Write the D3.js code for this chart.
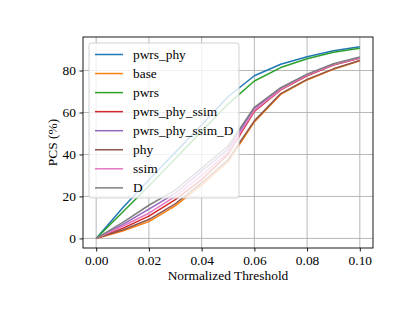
<!DOCTYPE html>
<html>
<head>
<meta charset="utf-8">
<script src="https://cdn.jsdelivr.net/npm/d3@7"></script>
<style>
  body { margin: 0; background: #fff; }
  svg { display: block; }
  text { font-family: "Liberation Serif", "DejaVu Serif", serif; fill: #000; }
</style>
</head>
<body>
<div class="chart"></div>
<script>
// thresholds on the x axis
const thresholds = [0, 0.01, 0.02, 0.03, 0.04, 0.05, 0.06, 0.07, 0.08, 0.09, 0.10];

// PCS (%) per method
const pwrs_phy        = [0, 14.5, 28, 41, 54, 67.5, 77.5, 83, 86.6, 89.4, 91.3];
const base            = [0, 3.5, 8, 15.5, 25.5, 36.5, 55.5, 68.6, 75.5, 80.6, 84.6];
const pwrs            = [0, 12.5, 25, 38, 51, 64, 75, 81.4, 85.6, 88.7, 90.6];
const pwrs_phy_ssim   = [0, 4.8, 10.6, 18.5, 28, 40, 60.5, 70.8, 77.5, 82.6, 85.8];
const pwrs_phy_ssim_D = [0, 6.6, 14, 21.5, 32, 42.5, 62, 71.5, 78, 83, 86.2];
const phy             = [0, 4, 9, 16.5, 26.5, 37.5, 56, 69, 75.8, 80.8, 84.8];
const ssim            = [0, 5.8, 12, 20, 30, 41, 61, 71, 77.8, 82.8, 86];
const D               = [0, 7.5, 15.8, 23, 33.5, 44, 62.5, 71.8, 78.3, 83.2, 86.4];

const seriesNames = ['pwrs_phy', 'base', 'pwrs', 'pwrs_phy_ssim', 'pwrs_phy_ssim_D', 'phy', 'ssim', 'D'];
const seriesValues = [pwrs_phy, base, pwrs, pwrs_phy_ssim, pwrs_phy_ssim_D, phy, ssim, D];
const colors = ['#1f77b4', '#ff7f0e', '#2ca02c', '#d62728', '#9467bd', '#8c564b', '#e377c2', '#7f7f7f'];

const xTicks = [0, 0.02, 0.04, 0.06, 0.08, 0.10];
const yTicks = [0, 20, 40, 60, 80];

function drawChart() {
  let width = 415;
  let height = 311;
  let margin = { top: 37, right: 42, bottom: 63, left: 83 };
  let innerW = width - margin.left - margin.right;
  let innerH = height - margin.top - margin.bottom;
  let fontSize = 13.4;

  let svg = d3.select('.chart')
    .append('svg')
    .attr('width', width)
    .attr('height', height);

  let g = svg.append('g')
    .attr('transform', 'translate(' + margin.left + ',' + margin.top + ')');

  let xScale = d3.scaleLinear()
    .domain([-0.005, 0.105])
    .range([0, innerW]);

  let yScale = d3.scaleLinear()
    .domain([-4.57, 95.97])
    .range([innerH, 0]);

  // grid
  g.append('g').selectAll('line')
    .data(xTicks)
    .enter().append('line')
    .attr('x1', d => xScale(d)).attr('x2', d => xScale(d))
    .attr('y1', 0).attr('y2', innerH)
    .attr('stroke', '#b0b0b0').attr('stroke-width', 0.9);

  g.append('g').selectAll('line')
    .data(yTicks)
    .enter().append('line')
    .attr('x1', 0).attr('x2', innerW)
    .attr('y1', d => yScale(d)).attr('y2', d => yScale(d))
    .attr('stroke', '#b0b0b0').attr('stroke-width', 0.9);

  // lines
  let line = d3.line()
    .x((d, i) => xScale(thresholds[i]))
    .y(d => yScale(d));

  g.append('g').selectAll('path')
    .data(seriesValues)
    .enter().append('path')
    .attr('d', d => line(d))
    .attr('fill', 'none')
    .attr('stroke', (d, i) => colors[i])
    .attr('stroke-width', 1.5)
    .attr('stroke-linejoin', 'round');

  // axes
  let xAxis = g.append('g')
    .attr('transform', 'translate(0,' + innerH + ')')
    .call(d3.axisBottom(xScale).tickValues(xTicks).tickFormat(d3.format('.2f')).tickSize(3.5).tickPadding(3.5));

  let yAxis = g.append('g')
    .call(d3.axisLeft(yScale).tickValues(yTicks).tickFormat(d3.format('d')).tickSize(3.5).tickPadding(3.5));

  [xAxis, yAxis].forEach(function(ax) {
    ax.select('.domain').remove();
    ax.selectAll('text').attr('font-size', fontSize).attr('font-family', '"Liberation Serif", serif');
    ax.selectAll('line').attr('stroke', '#000').attr('stroke-width', 0.9);
  });

  // frame
  g.append('rect')
    .attr('x', 0).attr('y', 0)
    .attr('width', innerW).attr('height', innerH)
    .attr('fill', 'none')
    .attr('stroke', '#000')
    .attr('stroke-width', 0.9);

  // labels
  g.append('text')
    .attr('x', innerW / 2)
    .attr('y', innerH + 31.5)
    .attr('text-anchor', 'middle')
    .attr('font-size', fontSize)
    .text('Normalized Threshold');

  g.append('text')
    .attr('transform', 'translate(' + (-26) + ',' + (innerH / 2) + ') rotate(-90)')
    .attr('text-anchor', 'middle')
    .attr('font-size', fontSize)
    .text('PCS (%)');

  // legend
  let legend = g.append('g')
    .attr('transform', 'translate(6,6)');

  legend.append('rect')
    .attr('x', 0).attr('y', 0)
    .attr('width', 150).attr('height', 155)
    .attr('rx', 2.5)
    .attr('fill', '#fff').attr('fill-opacity', 0.8)
    .attr('stroke', '#cccccc').attr('stroke-width', 0.9);

  let items = legend.selectAll('.item')
    .data(seriesNames)
    .enter().append('g')
    .attr('class', 'item')
    .attr('transform', (d, i) => 'translate(0,' + (11.5 + i * 19.05) + ')');

  items.append('line')
    .attr('x1', 6).attr('x2', 34)
    .attr('y1', 0).attr('y2', 0)
    .attr('stroke', (d, i) => colors[i])
    .attr('stroke-width', 1.5);

  items.append('text')
    .attr('x', 44)
    .attr('y', 0)
    .attr('dy', '0.32em')
    .attr('font-size', fontSize)
    .text(d => d);
}

drawChart();
</script>
</body>
</html>
